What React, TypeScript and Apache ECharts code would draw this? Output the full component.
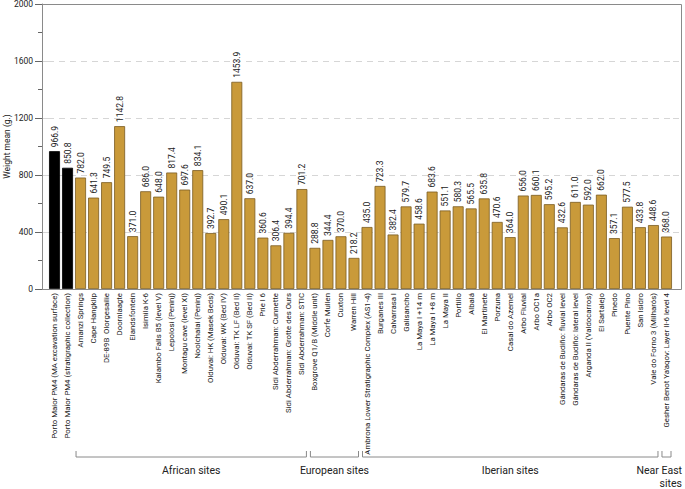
import React, { useEffect, useRef } from "react";
import * as echarts from "echarts";

const sites: string[] = [
  "Porto Maior PM4 (MA excavation surface)",
  "Porto Maior PM4 (stratigraphic collection)",
  "Amanzi Springs",
  "Cape Hangklip",
  "DE-89B  Olorgesailie",
  "Doornlaagte",
  "Elandsfontein",
  "Isimila K-6",
  "Kalambo Falls B5 (level V)",
  "Lepolosi (Peninj)",
  "Montagu cave (level XI)",
  "Noolchalai (Peninj)",
  "Olduvai: HK (Masek Beds)",
  "Olduvai: WK (Bed IV)",
  "Olduvai: TK LF (Bed II)",
  "Olduvai: TK SF (Bed II)",
  "Prie l 6",
  "Sidi Abderrahman: Cunnette",
  "Sidi Abderrahman: Grotte des Ours",
  "Sidi Abderrahman: STIC",
  "Boxgrove Q1/B (Middle unit)",
  "Corfe Mullen",
  "Cuxton",
  "Warren Hill",
  "Ambrona Lower Stratigraphic Complex (AS1-4)",
  "Burganes III",
  "Calvarrasa I",
  "Galisancho",
  "La Maya I +14 m",
  "La Maya I +8 m",
  "La Maya II",
  "Portillo",
  "Albalá",
  "El Martinete",
  "Porzuna",
  "Casal do Azemel",
  "Arbo Fluvial",
  "Arbo OC1a",
  "Arbo OC2",
  "Gándaras de Budiño: fluvial level",
  "Gándaras de Budiño: lateral level",
  "Arganda II (Valdocarros)",
  "El Sartalejo",
  "Pinedo",
  "Puente Pino",
  "San Isidro",
  "Vale do Forno 3 (Milharós)",
  "Gesher Benot Ya'aqov: Layer II-6 level 4",
];

const weightMean: number[] = [
  966.9, 850.8, 782.0, 641.3, 749.5, 1142.8, 371.0, 686.0, 648.0, 817.4,
  697.6, 834.1, 392.7, 490.1, 1453.9, 637.0, 360.6, 306.4, 394.4, 701.2,
  288.8, 344.4, 370.0, 218.2, 435.0, 723.3, 382.4, 579.7, 458.6, 683.6,
  551.1, 580.3, 565.5, 635.8, 470.6, 364.0, 656.0, 660.1, 595.2, 432.6,
  611.0, 592.0, 662.0, 357.1, 577.5, 433.8, 448.6, 368.0,
];

const yTicks: number[] = [0, 400, 800, 1200, 1600, 2000];

const groupNames: string[] = ["African sites", "European sites", "Iberian sites", "Near East\nsites"];
const groupFirst: number[] = [2, 20, 24, 47];
const groupLast: number[] = [19, 23, 46, 47];

const FONT = "Roboto, 'Noto Sans', sans-serif";
const W = 685;
const H = 489;
const G = { left: 48, right: 12, top: 4, bottom: 200 };
const PAD_L = 6;
const PAD_R = 8;

export default function App() {
  const ref = useRef<HTMLDivElement>(null);

  useEffect(() => {
    if (!ref.current) return;
    const chart = echarts.init(ref.current, null, { renderer: "svg" });
    const yMin = yTicks[0];
    const yMax = yTicks[yTicks.length - 1];
    const interval = yTicks[1] - yTicks[0];

    chart.setOption({
      animation: false,
      textStyle: { fontFamily: FONT },
      grid: { ...G, containLabel: false, outerBoundsMode: "none" },
      xAxis: {
        type: "category",
        data: sites,
        axisLine: { show: false },
        axisTick: { show: false },
        axisLabel: {
          interval: 0,
          rotate: 90,
          fontSize: 7.8,
          color: "#222",
          margin: 4,
          fontFamily: FONT,
        },
      },
      yAxis: {
        type: "value",
        min: yMin,
        max: yMax,
        interval,
        offset: PAD_L,
        name: "Weight mean (g.)",
        nameLocation: "middle",
        nameRotate: 90,
        nameGap: 31,
        nameMoveOverlap: false,
        nameTextStyle: { fontSize: 8.5, color: "#222", fontFamily: FONT },
        axisLine: { show: true, lineStyle: { color: "#8a8a8a", width: 1 } },
        axisTick: { show: true, length: 7, lineStyle: { color: "#666" } },
        minorTick: { show: true, splitNumber: 2, length: 4, lineStyle: { color: "#666" } },
        axisLabel: {
          fontSize: 8.5, color: "#222", margin: 9, fontFamily: FONT,
          showMaxLabel: true, showMinLabel: true,
          hideOverlap: false,
          formatter: (v: number) => String(v),
        },
        splitLine: {
          show: true,
          lineStyle: { color: "#d6d6d6", type: [6, 5], width: 1 },
        },
      },
      series: [
        {
          type: "bar",
          data: weightMean.map((v, i) => ({
            value: v,
            itemStyle: sites[i].startsWith("Porto Maior")
              ? { color: "#000000", borderColor: "#000000" }
              : undefined,
          })),
          barCategoryGap: "16%",
          itemStyle: { color: "#c99a3a", borderColor: "#7a5c22", borderWidth: 0.8 },
          label: {
            show: true,
            position: "top",
            rotate: 90,
            align: "left",
            verticalAlign: "middle",
            distance: 4,
            fontSize: 8.5,
            color: "#222",
            fontFamily: FONT,
            formatter: (p: any) => Number(p.value).toFixed(1),
          },
        },
      ],
    });

    const graphics: any[] = [];
    const top = G.top + 0.5;
    const bottom = H - G.bottom + 0.5;
    const left = G.left - PAD_L;
    const right = W - G.right + PAD_R + 0.5;
    const frameStyle = { stroke: "#8a8a8a", lineWidth: 1 };
    graphics.push({ type: "line", shape: { x1: left, y1: top, x2: right, y2: top }, style: frameStyle, silent: true, z: 50 });
    graphics.push({ type: "line", shape: { x1: right, y1: top, x2: right, y2: bottom }, style: frameStyle, silent: true, z: 50 });
    graphics.push({ type: "line", shape: { x1: left, y1: bottom, x2: right, y2: bottom }, style: frameStyle, silent: true, z: 50 });
    const plotH = H - G.bottom - G.top;
    yTicks.slice(1, -1).forEach((t) => {
      const y = Math.round(H - G.bottom - ((t - yMin) / (yMax - yMin)) * plotH) + 0.5;
      graphics.push({
        type: "line",
        shape: { x1: left, y1: y, x2: G.left, y2: y },
        style: { stroke: "#d6d6d6", lineWidth: 1, lineDash: [6, 5] },
        silent: true,
      });
      graphics.push({
        type: "line",
        shape: { x1: W - G.right, y1: y, x2: right, y2: y },
        style: { stroke: "#d6d6d6", lineWidth: 1, lineDash: [6, 5] },
        silent: true,
      });
    });

    const c0 = chart.convertToPixel({ xAxisIndex: 0 }, sites[0]) as number;
    const c1 = chart.convertToPixel({ xAxisIndex: 0 }, sites[1]) as number;
    const step = c1 - c0;
    const lineY = 457;
    const tickH = 6;
    const inset = 2;
    groupNames.forEach((name, g) => {
      const x0 = (chart.convertToPixel({ xAxisIndex: 0 }, sites[groupFirst[g]]) as number) - step / 2 + inset;
      const x1 = (chart.convertToPixel({ xAxisIndex: 0 }, sites[groupLast[g]]) as number) + step / 2 - inset;
      graphics.push({
        type: "polyline",
        shape: { points: [[x0, lineY - tickH], [x0, lineY], [x1, lineY], [x1, lineY - tickH]] },
        style: { stroke: "#8a8a8a", lineWidth: 1, fill: "none" },
        silent: true,
      });
      const nearEdge = (x0 + x1) / 2 + 30 > W;
      graphics.push({
        type: "text",
        x: nearEdge ? W - 3 : (x0 + x1) / 2,
        y: lineY + 7,
        style: {
          text: name,
          fontSize: 10.5,
          fill: "#222",
          fontFamily: FONT,
          align: nearEdge ? "right" : "center",
          verticalAlign: "top",
          lineHeight: 13,
        },
        silent: true,
      });
    });
    chart.setOption({ graphic: graphics });

    return () => chart.dispose();
  }, []);

  return (
    <div
      ref={ref}
      style={{ position: "absolute", left: 0, top: 0, width: W, height: H }}
    />
  );
}
